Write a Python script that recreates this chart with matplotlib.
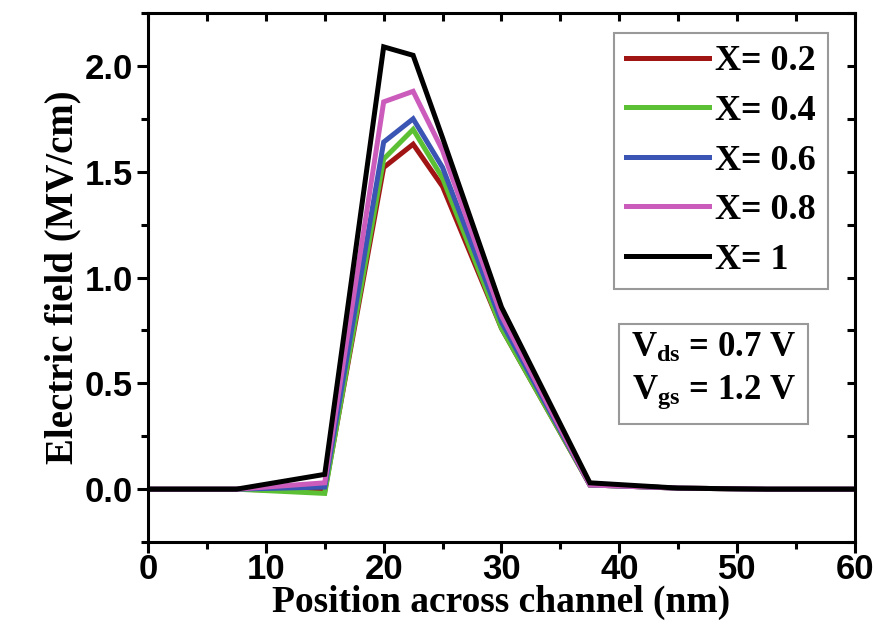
import matplotlib
matplotlib.use("Agg")
import matplotlib.pyplot as plt
from matplotlib.ticker import MultipleLocator

# position across channel (nm)
pos = [0, 7.5, 15, 20, 22.5, 25, 30, 37.5, 45, 52.5, 60]

# electric field (MV/cm) for each composition
field_02 = [0, 0, -0.01, 1.52, 1.63, 1.43, 0.76, 0.02, 0.005, 0, 0]
field_04 = [0, 0, -0.02, 1.56, 1.70, 1.47, 0.76, 0.02, 0.005, 0, 0]
field_06 = [0, 0, 0.01, 1.64, 1.75, 1.52, 0.79, 0.02, 0.005, 0, 0]
field_08 = [0, 0, 0.03, 1.83, 1.88, 1.60, 0.82, 0.02, 0.005, 0, 0]
field_10 = [0, 0, 0.07, 2.09, 2.05, 1.66, 0.86, 0.03, 0.005, 0, 0]

labels = ["X= 0.2", "X= 0.4", "X= 0.6", "X= 0.8", "X= 1"]
colors = ["#a01414", "#5cc034", "#3a55b4", "#cc5cbc", "#000000"]

plt.rcParams['mathtext.fontset'] = 'custom'
plt.rcParams['mathtext.rm'] = 'Liberation Serif:bold'
plt.rcParams['mathtext.bf'] = 'Liberation Serif:bold'
plt.rcParams['mathtext.it'] = 'Liberation Serif:bold'

fig = plt.figure(figsize=(8.83, 6.37), dpi=100)
ax = fig.add_axes([0.1676, 0.149, 0.8007, 0.8306])

for y, lab, c in zip([field_02, field_04, field_06, field_08, field_10], labels, colors):
    ax.plot(pos, y, color=c, lw=3.6, label=lab, solid_joinstyle='miter')

ax.set_xlim(0, 60)
ax.set_ylim(-0.25, 2.25)
ax.xaxis.set_major_locator(MultipleLocator(10))
ax.xaxis.set_minor_locator(MultipleLocator(5))
ax.yaxis.set_major_locator(MultipleLocator(0.5))
ax.yaxis.set_minor_locator(MultipleLocator(0.25))
ax.yaxis.set_major_formatter(matplotlib.ticker.FormatStrFormatter('%.1f'))

for s in ax.spines.values():
    s.set_linewidth(2.2)
ax.tick_params(which='major', direction='out', length=8, width=2.2,
               labelsize=25, pad=3)
ax.tick_params(axis='x', which='major', pad=0)
ax.tick_params(which='minor', direction='out', length=5, width=2.2)
for t in ax.get_xticklabels() + ax.get_yticklabels():
    t.set_fontweight('bold')
    t.set_family('Liberation Sans')

# mirrored inward ticks on top and right
top = ax.secondary_xaxis('top')
top.xaxis.set_major_locator(MultipleLocator(10))
top.xaxis.set_minor_locator(MultipleLocator(5))
top.tick_params(which='both', direction='in', length=6, width=2.2, labeltop=False)
right = ax.secondary_yaxis('right')
right.yaxis.set_major_locator(MultipleLocator(0.5))
right.yaxis.set_minor_locator(MultipleLocator(0.25))
right.tick_params(which='both', direction='in', length=6, width=2.2, labelright=False)

ax.set_xlabel("Position across channel (nm)", fontsize=27, fontweight='bold',
              family='Liberation Serif', labelpad=-1)
ax.set_ylabel("Electric field (MV/cm)", fontsize=28, fontweight='bold',
              family='Liberation Serif', labelpad=2)

leg = ax.legend(loc='upper right', bbox_to_anchor=(0.962, 0.963),
                prop={'family': 'Liberation Serif', 'weight': 'bold', 'size': 26},
                handlelength=2.3, handletextpad=0.15, labelspacing=0.45,
                borderpad=0.35, borderaxespad=0, fancybox=False, framealpha=1)
leg.get_frame().set_edgecolor('#999999')
leg.get_frame().set_linewidth(1.5)

ax.text(0.8, 0.322, "$\\mathbf{V_{ds}}$ = 0.7 V\n$\\mathbf{V_{gs}}$ = 1.2 V",
        transform=ax.transAxes, ha='center', va='center', fontsize=25,
        fontweight='bold', family='Liberation Serif', linespacing=1.35,
        bbox=dict(boxstyle='square,pad=0.35', fc='white', ec='#999999', lw=1.5))

fig.savefig("out.png", dpi=100)
